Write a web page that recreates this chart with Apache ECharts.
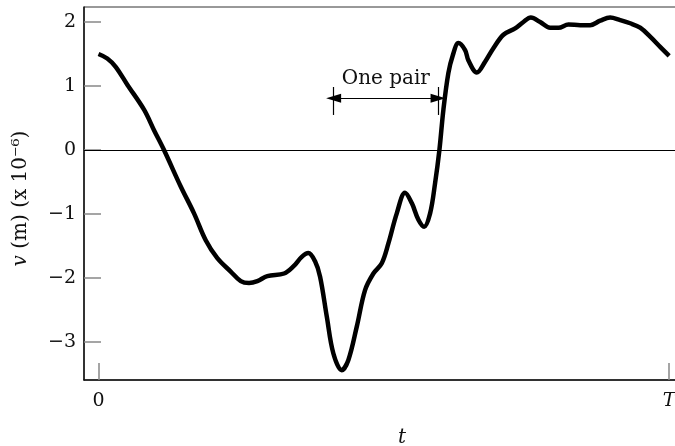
<!DOCTYPE html>
<html>
<head>
<meta charset="utf-8">
<script src="https://cdn.jsdelivr.net/npm/echarts@6/dist/echarts.min.js"></script>
<style>
  html, body { margin: 0; padding: 0; background: #fff; }
  #chart { width: 675px; height: 446px; }
</style>
</head>
<body>
<div id="chart"></div>
<script>
// Displacement history v(t) over one period, t in percent of T
const tValues = [0, 1.54, 3.01, 5.05, 7.98, 9.73, 11.48, 14.41, 16.74, 18.79, 20.82, 23.17, 24.93, 26.38, 27.84, 29.59,
  32.52, 34.15, 35.62, 36.77, 37.95, 38.83, 40.00, 41.16, 42.63, 43.79, 45.26, 46.71, 48.17, 49.64, 50.80, 52.27,
  53.72, 54.90, 56.06, 57.06, 58.11, 58.98, 59.74, 60.44, 61.31, 62.09, 63.07, 64.24, 64.82, 66.29, 67.75, 69.20,
  70.96, 73.01, 74.46, 75.76, 77.39, 79.14, 80.60, 82.35, 84.40, 86.15, 87.91, 89.66, 91.41, 93.16, 94.92, 96.67,
  98.42, 100];
const vValues = [1.50, 1.43, 1.30, 1.02, 0.63, 0.31, 0.00, -0.57, -0.99, -1.41, -1.69, -1.90, -2.05, -2.08, -2.05, -1.97,
  -1.93, -1.82, -1.67, -1.61, -1.74, -1.98, -2.60, -3.18, -3.44, -3.28, -2.76, -2.19, -1.93, -1.77, -1.46, -0.99,
  -0.67, -0.83, -1.09, -1.20, -0.99, -0.52, 0.00, 0.63, 1.20, 1.48, 1.67, 1.56, 1.40, 1.21, 1.38, 1.59,
  1.80, 1.90, 2.00, 2.07, 2.00, 1.91, 1.91, 1.96, 1.95, 1.95, 2.02, 2.07, 2.03, 1.98, 1.91, 1.77,
  1.61, 1.47];

// Axis ticks and their labels
const xTickValues = [0, 100];
const xTickLabels = ['0', 'T'];
const yTickValues = [-3, -2, -1, 0, 1, 2];
const yTickLabels = ['\u22123', '\u22122', '\u22121', '0', '1', '2'];

// "One pair" span (t range) and bracket heights
const pairSpan = [41.2, 59.5];
const pairArrowV = 0.808;
const pairBarV = [0.984, 0.547];

const FONT = 'DejaVu Serif';
const points = tValues.map((t, i) => [t, vValues[i]]);

const chart = echarts.init(document.getElementById('chart'), null, { renderer: 'canvas' });
chart.setOption({
  animation: false,
  backgroundColor: '#fff',
  grid: {
    left: 84, top: 7, width: 596, height: 373,
    containLabel: false,
    outerBoundsMode: 'none',
    show: true, borderColor: '#333', borderWidth: 1, backgroundColor: 'transparent'
  },
  xAxis: {
    type: 'value',
    min: -2.54, max: 101.9,
    name: 't',
    nameLocation: 'middle',
    nameGap: 48,
    nameTextStyle: { fontFamily: FONT, fontStyle: 'italic', fontSize: 20, color: '#111', padding: [0, 0, 0, 40] },
    axisLine: { show: true, onZero: false, lineStyle: { color: '#111', width: 1.5 } },
    axisTick: { show: true, inside: true, length: 17, customValues: xTickValues, lineStyle: { color: '#888', width: 1.5 } },
    axisLabel: {
      customValues: xTickValues,
      margin: 12,
      fontFamily: FONT, fontSize: 19, color: '#111',
      formatter: v => {
        const s = xTickLabels[xTickValues.indexOf(v)];
        return s === 'T' ? '{it|T}' : s;
      },
      rich: { it: { fontFamily: FONT, fontStyle: 'italic', fontSize: 19, color: '#111' } }
    },
    splitLine: { show: false }
  },
  yAxis: {
    type: 'value',
    min: -3.594, max: 2.234,
    name: '{i|v} (m) (x 10\u207B\u2076)',
    nameLocation: 'middle',
    nameRotate: 90,
    nameGap: 53,
    nameTextStyle: {
      fontFamily: FONT, fontSize: 20, color: '#111', padding: [0, 10, 0, 0],
      rich: { i: { fontFamily: FONT, fontStyle: 'italic', fontSize: 20, color: '#111' } }
    },
    axisLine: { show: true, onZero: false, lineStyle: { color: '#111', width: 1.5 } },
    axisTick: { show: true, inside: true, length: 17, customValues: yTickValues, lineStyle: { color: '#888', width: 1.5 } },
    axisLabel: {
      customValues: yTickValues,
      margin: 8,
      fontFamily: FONT, fontSize: 19, color: '#111',
      formatter: v => yTickLabels[yTickValues.indexOf(v)]
    },
    splitLine: { show: false }
  },
  series: [{
    type: 'line',
    data: points,
    smooth: 0.35,
    showSymbol: false,
    symbol: 'none',
    lineStyle: { color: '#000', width: 4.5 },
    z: 5,
    markLine: {
      silent: true,
      symbol: 'none',
      label: { show: false },
      lineStyle: { color: '#000', width: 1.2, type: 'solid' },
      data: [
        { yAxis: 0 },
        [
          { coord: [pairSpan[0], pairArrowV], symbol: 'triangle', symbolSize: [9, 15] },
          {
            coord: [pairSpan[1], pairArrowV], symbol: 'triangle', symbolSize: [9, 15],
            label: {
              show: true, position: 'middle', distance: 9, formatter: 'One pair',
              fontFamily: FONT, fontSize: 20, color: '#111'
            }
          }
        ],
        [{ coord: [pairSpan[0], pairBarV[0]] }, { coord: [pairSpan[0], pairBarV[1]] }],
        [{ coord: [pairSpan[1], pairBarV[0]] }, { coord: [pairSpan[1], pairBarV[1]] }]
      ]
    }
  }]
});
</script>
</body>
</html>
